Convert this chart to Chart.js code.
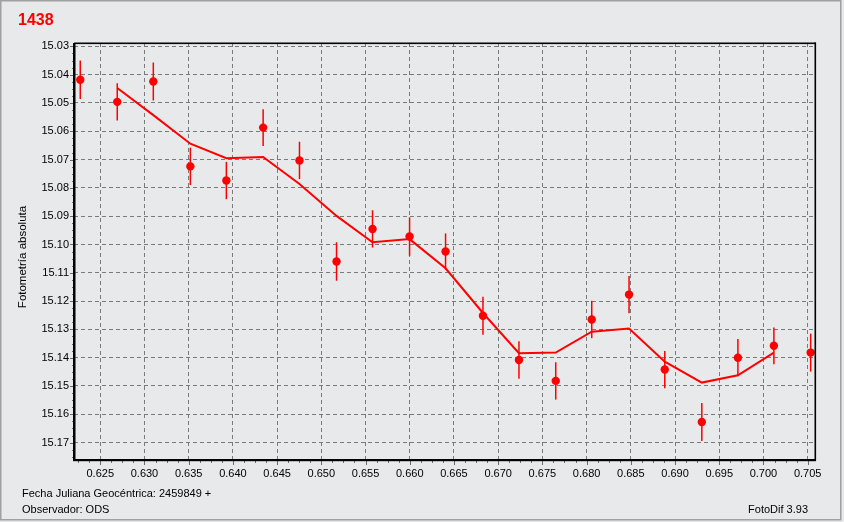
<!DOCTYPE html>
<html>
<head>
<meta charset="utf-8">
<script src="https://cdn.jsdelivr.net/npm/chart.js@4.4.1/dist/chart.umd.min.js"></script>
<style>
  html, body { margin: 0; padding: 0; background: #e8e9eb; overflow: hidden; }
  canvas { display: block; }
</style>
</head>
<body>
<canvas id="lightCurve" width="844" height="522"></canvas>
<script>
// observations (JD - 2459849)
const obsTime = [0.62274, 0.62692, 0.63100, 0.63519, 0.63926, 0.64342, 0.64753,
  0.65172, 0.65579, 0.65998, 0.66405, 0.66828, 0.67235, 0.67651, 0.68058,
  0.68480, 0.68884, 0.69303, 0.69711, 0.70118, 0.70534];
const obsMag = [15.0418, 15.0496, 15.0424, 15.0724, 15.0774, 15.0587, 15.0703,
  15.1060, 15.0945, 15.0972, 15.1025, 15.1252, 15.1408, 15.1482, 15.1265,
  15.1177, 15.1442, 15.1627, 15.1400, 15.1358, 15.1382];
const obsErr = [0.0068, 0.0066, 0.0067, 0.0066, 0.0066, 0.0065, 0.0066,
  0.0068, 0.0066, 0.0068, 0.0064, 0.0067, 0.0066, 0.0066, 0.0066,
  0.0066, 0.0066, 0.0067, 0.0066, 0.0065, 0.0067];

// smoothed curve
const avgTime = [0.62692, 0.63100, 0.63519, 0.63926, 0.64342, 0.64753,
  0.65172, 0.65579, 0.65998, 0.66405, 0.66828, 0.67235, 0.67651, 0.68058,
  0.68480, 0.68884, 0.69303, 0.69711, 0.70118];
const avgMag = [15.0447, 15.0543, 15.0644, 15.0695, 15.0691, 15.0786,
  15.0899, 15.0992, 15.0981, 15.1084, 15.1242, 15.1384, 15.1382, 15.1308,
  15.1297, 15.1414, 15.1488, 15.1462, 15.1382];

const xTickValues = [0.625, 0.630, 0.635, 0.640, 0.645, 0.650, 0.655, 0.660,
  0.665, 0.670, 0.675, 0.680, 0.685, 0.690, 0.695, 0.700, 0.705];
const yTickValues = [15.03, 15.04, 15.05, 15.06, 15.07, 15.08, 15.09, 15.10,
  15.11, 15.12, 15.13, 15.14, 15.15, 15.16, 15.17];

const chartTitle = '1438';
const yTitle = 'Fotometría absoluta';
const footLeft1 = 'Fecha Juliana Geocéntrica: 2459849 +';
const footLeft2 = 'Observador: ODS';
const footRight = 'FotoDif 3.93';

const FONT = '"Liberation Sans", Arial, sans-serif';

const errorBars = {
  id: 'errorBars',
  beforeDatasetsDraw(chart) {
    const { ctx, scales: { x, y } } = chart;
    ctx.save();
    ctx.strokeStyle = '#ff0000';
    ctx.lineWidth = 1.5;
    obsTime.forEach((t, i) => {
      const px = x.getPixelForValue(t);
      ctx.beginPath();
      ctx.moveTo(px, y.getPixelForValue(obsMag[i] - obsErr[i]));
      ctx.lineTo(px, y.getPixelForValue(obsMag[i] + obsErr[i]));
      ctx.stroke();
    });
    ctx.restore();
  }
};

const frame = {
  id: 'frame',
  afterDraw(chart) {
    const { ctx, chartArea: a, scales: { x, y } } = chart;
    ctx.save();

    // minor / major tick marks
    ctx.fillStyle = '#6a6a6a';
    for (let k = 0; ; k++) {
      const v = 0.6225 + k * 0.00125;
      if (v > x.max) break;
      const px = Math.round(x.getPixelForValue(v));
      const major = k % 4 === 2;
      ctx.fillRect(px, a.bottom + 1, 1, major ? 5 : 3);
    }
    for (let k = 0; ; k++) {
      const v = 15.03 + k * 0.0025;
      if (v > y.max) break;
      const py = Math.round(y.getPixelForValue(v));
      const major = k % 4 === 0;
      ctx.fillRect(a.left - (major ? 4 : 2), py, major ? 4 : 2, 1);
    }

    // plot border
    ctx.fillStyle = '#000';
    ctx.fillRect(a.left - 1, a.top, 2.5, a.bottom - a.top + 2);
    ctx.fillRect(a.left - 1, a.bottom, a.right - a.left + 2, 2.2);
    ctx.fillRect(a.left, a.top - 0.5, a.right - a.left + 1, 1.6);
    ctx.fillRect(a.right - 0.5, a.top - 0.5, 1.6, a.bottom - a.top + 2);

    // texts
    ctx.fillStyle = '#ff0000';
    ctx.font = 'bold 16px ' + FONT;
    ctx.textBaseline = 'alphabetic';
    ctx.fillText(chartTitle, 18, 25);

    ctx.fillStyle = '#000';
    ctx.font = '11px ' + FONT;
    ctx.textBaseline = 'middle';
    ctx.fillText(footLeft1, 22, 494);
    ctx.fillText(footLeft2, 22, 510);
    ctx.textAlign = 'right';
    ctx.fillText(footRight, 808, 510);

    ctx.save();
    ctx.translate(22.5, 257);
    ctx.rotate(-Math.PI / 2);
    ctx.textAlign = 'center';
    ctx.font = '11.5px ' + FONT;
    ctx.fillText(yTitle, 0, 0);
    ctx.restore();

    // outer window frame
    ctx.strokeStyle = '#a0a0a0';
    ctx.lineWidth = 1.5;
    ctx.strokeRect(0.75, 0.75, 840, 519);
    ctx.restore();
  }
};

new Chart(document.getElementById('lightCurve'), {
  type: 'scatter',
  data: {
    datasets: [
      {
        label: 'media',
        type: 'line',
        data: avgTime.map((t, i) => ({ x: t, y: avgMag[i] })),
        borderColor: '#ff0000',
        borderWidth: 2,
        pointRadius: 0,
        tension: 0,
        fill: false
      },
      {
        label: 'observaciones',
        data: obsTime.map((t, i) => ({ x: t, y: obsMag[i] })),
        backgroundColor: '#ff0000',
        borderWidth: 0,
        pointRadius: 4.2
      }
    ]
  },
  options: {
    responsive: false,
    animation: false,
    devicePixelRatio: 1,
    layout: { padding: { top: 43, right: 29, bottom: 0, left: 0 } },
    plugins: {
      legend: { display: false },
      tooltip: { enabled: false }
    },
    scales: {
      x: {
        type: 'linear',
        min: 0.62203,
        max: 0.70583,
        afterBuildTicks: (scale) => { scale.ticks = xTickValues.map(v => ({ value: v })); },
        afterFit: (scale) => { scale.height = 63; },
        grid: { color: '#7a7a7a', lineWidth: 1, drawTicks: false },
        border: { display: false, dash: [4, 3] },
        ticks: {
          padding: 8,
          color: '#000',
          maxRotation: 0,
          autoSkip: false,
          font: { family: FONT, size: 11 },
          callback: (v) => v.toFixed(3)
        }
      },
      y: {
        type: 'linear',
        reverse: true,
        min: 15.0288,
        max: 15.1758,
        afterBuildTicks: (scale) => { scale.ticks = yTickValues.map(v => ({ value: v })); },
        afterFit: (scale) => { scale.width = 74; },
        grid: { color: '#7a7a7a', lineWidth: 1, drawTicks: false },
        border: { display: false, dash: [4, 3] },
        ticks: {
          padding: 5,
          color: '#000',
          autoSkip: false,
          font: { family: FONT, size: 11 },
          callback: (v) => v.toFixed(2)
        }
      }
    }
  },
  plugins: [errorBars, frame]
});
</script>
</body>
</html>
